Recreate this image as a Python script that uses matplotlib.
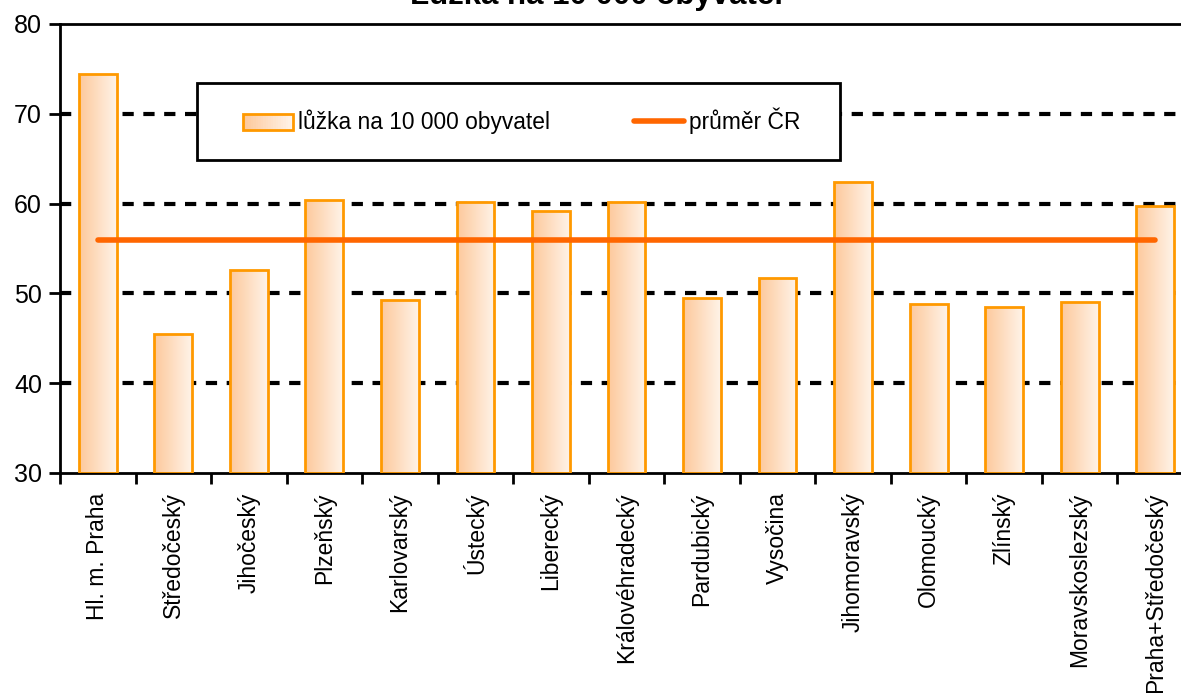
import numpy as np
import matplotlib
matplotlib.use("Agg")
import matplotlib.pyplot as plt
from matplotlib.patches import Rectangle
from matplotlib.legend_handler import HandlerBase
from matplotlib.lines import Line2D
from matplotlib.colors import LinearSegmentedColormap
from matplotlib import font_manager

names = [f.name for f in font_manager.fontManager.ttflist]
FONT = ["Liberation Sans Narrow", "Liberation Sans", "DejaVu Sans"]
plt.rcParams['font.family'] = [f for f in FONT if f in names] or ["DejaVu Sans"]

regions = ["Hl. m. Praha", "Středočeský", "Jihočeský", "Plzeňský", "Karlovarský",
           "Ústecký", "Liberecký", "Královéhradecký", "Pardubický", "Vysočina",
           "Jihomoravský", "Olomoucký", "Zlínský", "Moravskoslezský", "Praha+Středočeský"]
beds = [74.4, 45.5, 52.6, 60.4, 49.3, 60.2, 59.2, 60.2, 49.5, 51.7, 62.4, 48.8, 48.5, 49.0, 59.7]
cr_avg = 55.9
title = "Lůžka na 10 000 obyvatel"
label_bars = "lůžka na 10 000 obyvatel"
label_line = "průměr ČR"

W, H = 1181, 693
fig = plt.figure(figsize=(W / 100, H / 100), dpi=100)
ax = fig.add_axes([60 / W, 1 - 473 / H, (1193 - 60) / W, (473 - 24) / H])

x = np.arange(len(regions))
bw = 0.5
grad = np.linspace(0, 1, 64).reshape(1, -1)
cmap = LinearSegmentedColormap.from_list("og", ["#FDC99C", "#FFF3E8"])

bars = ax.bar(x, np.array(beds) - 30, bottom=30, width=bw, facecolor="none",
              edgecolor="#FF9900", linewidth=2, zorder=3)
for b in bars:
    x0, y0 = b.get_x(), b.get_y()
    im = ax.imshow(grad, cmap=cmap, aspect="auto", interpolation="bicubic",
                   extent=(x0, x0 + b.get_width(), y0, y0 + b.get_height()), zorder=2)
    im.set_clip_path(b)

ax.plot([x[0], x[-1]], [cr_avg, cr_avg], color="#FF6600", lw=4, solid_capstyle="round", zorder=4)

ax.set_xlim(-0.5, len(regions) - 0.5)
ax.set_ylim(30, 80)
ax.set_yticks([30, 40, 50, 60, 70, 80])
for yv in [40, 50, 60, 70]:
    ax.axhline(yv, color="black", lw=3, ls=(0, (2.7, 2.3)), zorder=1)

ax.set_xticks(x)
ax.set_xticklabels(regions, rotation=90, fontsize=16.5)
ax.set_xticks(np.arange(-0.5, len(regions)), minor=True)
ax.tick_params(axis="x", which="major", length=0, pad=14)
ax.tick_params(axis="x", which="minor", length=8, width=2, direction="out")
ax.tick_params(axis="y", length=8, width=2, direction="out", labelsize=18, pad=5)
for s in ["left", "bottom", "top"]:
    ax.spines[s].set_linewidth(2)
ax.spines["right"].set_visible(False)

fig.text(0.505, 1 - 4 / H, title, ha="center", va="baseline", fontsize=22.5, fontweight="bold")

# legend frame
frame = Rectangle((197 / W, 1 - 160 / H), (840 - 197) / W, 77 / H, transform=fig.transFigure,
                  facecolor="white", edgecolor="black", lw=2, zorder=6)
ax.add_patch(frame)
frame.set_clip_on(False)


class GradHandler(HandlerBase):
    def create_artists(self, legend, orig, xd, yd, width, height, fontsize, trans):
        arts = []
        n = 20
        for i in range(n):
            r = Rectangle((xd + width * i / n, yd), width / n + 0.3, height,
                          facecolor=cmap(i / (n - 1)), edgecolor="none", transform=trans)
            arts.append(r)
        arts.append(Rectangle((xd, yd), width, height, facecolor="none",
                              edgecolor="#FF9900", lw=2, transform=trans))
        return arts


h_bar = Rectangle((0, 0), 1, 1)
h_line = Line2D([], [], color="#FF6600", lw=4, solid_capstyle="round")
leg = ax.legend([h_bar, h_line], [label_bars, label_line], ncol=2,
                handler_map={h_bar: GradHandler()},
                bbox_to_anchor=(243 / W, 1 - 121 / H), bbox_transform=fig.transFigure,
                loc="center left", fontsize=16.4, frameon=False,
                handlelength=2.2, handleheight=0.65, handletextpad=0.2, borderpad=0,
                columnspacing=3.7, borderaxespad=0)
leg.set_zorder(7)

fig.savefig("out.png", dpi=100)
